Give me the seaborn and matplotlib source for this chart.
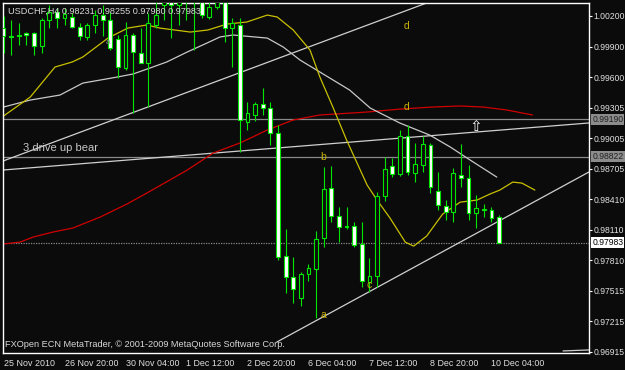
import matplotlib
matplotlib.use("Agg")
import matplotlib.pyplot as plt
import matplotlib.transforms as mtransforms
import seaborn as sns
import numpy as np
import pandas as pd

# ---------------- data (USDCHF H4, bars from 25 Nov 2010 12:00) ----------------
opens = [1.00082, 1.00004, 1.00014, 1.00033, 1.00033, 0.99906, 1.00160, 1.00239, 1.00180, 1.00190,
         1.00092, 0.99994, 1.00112, 1.00209, 1.00160, 0.99975, 0.99691, 1.00014, 0.99838, 0.99740,
         1.00112, 1.00307, 1.00385, 1.00307, 1.00405, 1.00356, 1.00405, 1.00190, 1.00288, 1.00385,
         1.00082, 1.00112, 0.99163, 0.99231, 0.99339, 0.99300, 0.99055, 0.97852, 0.97647, 0.97442,
         0.97676, 0.97725, 0.98028, 0.98517, 0.98244, 0.98146, 0.98146, 0.97970, 0.97598, 0.97657,
         0.98439, 0.98733, 0.98654, 0.99026, 0.98664, 0.98742, 0.98938, 0.98488, 0.98341, 0.98283,
         0.98645, 0.98615, 0.98273, 0.98312, 0.98302, 0.98231]
highs = [1.00200, 1.00160, 1.00131, 1.00043, 1.00043, 1.00180, 1.00307, 1.00278, 1.00278, 1.00229,
         1.00131, 1.00131, 1.00258, 1.00307, 1.00239, 1.00014, 1.00141, 1.00033, 1.00082, 1.00229,
         1.00356, 1.00454, 1.00503, 1.00473, 1.00503, 1.00454, 1.00454, 1.00356, 1.00434, 1.00434,
         1.00180, 1.00180, 0.99358, 0.99358, 0.99495, 0.99358, 0.99134, 0.98116, 0.97843, 0.97696,
         0.97774, 0.98097, 0.98723, 0.98733, 0.98332, 0.98332, 0.98185, 0.98185, 0.97833, 0.98478,
         0.98821, 0.98811, 0.99085, 0.99134, 0.98958, 0.99026, 0.98958, 0.98674, 0.98400, 0.98713,
         0.98948, 0.98742, 0.98449, 0.98361, 0.98332, 0.98255]
lows = [0.99838, 0.99818, 0.99916, 0.99916, 0.99818, 0.99838, 1.00082, 1.00082, 1.00112, 1.00082,
        0.99965, 0.99965, 1.00033, 1.00004, 0.99867, 0.99593, 0.99672, 0.99251, 0.99740, 0.99310,
        1.00082, 1.00160, 0.99985, 1.00112, 1.00160, 0.99867, 1.00180, 1.00170, 1.00268, 0.99945,
        0.99701, 0.98870, 0.99085, 0.99173, 0.99231, 0.98938, 0.97813, 0.97490, 0.97393, 0.97363,
        0.97608, 0.97246, 0.97940, 0.98185, 0.97987, 0.98116, 0.97940, 0.97549, 0.97500, 0.97549,
        0.98390, 0.98625, 0.98635, 0.98645, 0.98576, 0.98674, 0.98469, 0.98302, 0.98204, 0.98185,
        0.98527, 0.98204, 0.98126, 0.98234, 0.98185, 0.97980]
closes = [1.00004, 0.99999, 1.00009, 1.00014, 0.99906, 1.00160, 1.00239, 1.00180, 1.00219, 1.00092,
          1.00004, 1.00112, 1.00209, 1.00160, 0.99887, 0.99701, 1.00014, 0.99847, 0.99740, 1.00131,
          1.00209, 1.00385, 1.00307, 1.00405, 1.00356, 1.00405, 1.00209, 1.00288, 1.00385, 1.00082,
          1.00131, 0.99183, 0.99251, 0.99339, 0.99300, 0.99055, 0.97843, 0.97647, 0.97530, 0.97676,
          0.97735, 0.98019, 0.98508, 0.98244, 0.98136, 0.98141, 0.97960, 0.97608, 0.97657, 0.98439,
          0.98703, 0.98654, 0.99026, 0.98674, 0.98752, 0.98948, 0.98527, 0.98351, 0.98283, 0.98664,
          0.98615, 0.98273, 0.98322, 0.98302, 0.98224, 0.97983]

x_tick_bars = [0, 8, 16, 24, 32, 40, 48, 56, 64]
x_tick_labels = ["25 Nov 2010", "26 Nov 20:00", "30 Nov 04:00", "1 Dec 12:00", "2 Dec 20:00",
                 "6 Dec 04:00", "7 Dec 12:00", "8 Dec 20:00", "10 Dec 04:00"]
price_ticks = [1.00200, 0.99900, 0.99600, 0.99305, 0.99005, 0.98705, 0.98410,
               0.98110, 0.97810, 0.97515, 0.97215, 0.96915]
level_lines = [0.99190, 0.98822]
last_price = 0.97983

# moving averages (bar position, price)
ma_fast_x = [0, 3.5, 6.75, 9, 10.4, 13.7, 16.3, 18.8, 20.5, 24.5, 26.8, 29.3, 31.9, 34.6, 35.9, 38,
             40.2, 41.5, 43.2, 45, 47.7, 49, 50.7, 52.7, 53.8, 55.5, 57.6, 59.9, 62.1, 63.8, 65.1,
             66.8, 68, 69.7]
ma_fast_y = [0.99222, 0.99407, 0.99701, 0.99750, 0.99799, 0.99984, 1.00082, 1.00112, 1.00082,
             1.00043, 1.00063, 1.00121, 1.00141, 1.00209, 1.00190, 1.00063, 0.99867, 0.99603,
             0.99310, 0.98987, 0.98546, 0.98400, 0.98224, 0.97989, 0.97950, 0.98048, 0.98263,
             0.98380, 0.98400, 0.98459, 0.98498, 0.98576, 0.98566, 0.98498]
ma_mid_x = [0, 3.5, 7.4, 10.4, 12.7, 14.9, 17, 19.2, 21.4, 24.1, 26.7, 28.4, 30.1, 34.6, 36.7,
            38.9, 41.5, 45.4, 48.1, 52, 55.9, 58.6, 61.2, 64.7]
ma_mid_y = [0.99310, 0.99378, 0.99427, 0.99544, 0.99574, 0.99603, 0.99633, 0.99691, 0.99750,
            0.99848, 0.99936, 0.99995, 1.00014, 0.99984, 0.99896, 0.99769, 0.99652, 0.99476,
            0.99300, 0.99153, 0.99036, 0.98919, 0.98792, 0.98625]
ma_slow_x = [0, 2.2, 3.9, 6.5, 9.1, 12.7, 16.2, 18.8, 21.8, 24.1, 27.5, 31, 34.6, 38, 41.5,
             47.7, 52, 56.3, 59.9, 62.9, 66, 69.4]
ma_slow_y = [0.97971, 0.97990, 0.98039, 0.98088, 0.98127, 0.98235, 0.98362, 0.98469, 0.98596,
             0.98694, 0.98860, 0.98958, 0.99085, 0.99183, 0.99232, 0.99261, 0.99290, 0.99310,
             0.99320, 0.99310, 0.99281, 0.99232]

# trend lines (bar position, price) pairs
trend_upper = ([-0.07, 55.5], [0.98782, 1.00327])
trend_mid = ([-0.07, 76.8], [0.98694, 0.99154])
trend_low = ([35.87, 76.8], [0.97013, 0.98675])
trend_tiny = ([73.4, 76.8], [0.96925, 0.96935])

wave_labels = ["d", "d", "b", "c", "a"]
wave_x = [52.9, 52.9, 41.9, 47.9, 41.9]
wave_y = [1.00102, 0.99310, 0.98821, 0.97570, 0.97277]

# ---------------- styling ----------------
BG = "#0b0b0b"
LIME = "#00e600"
FS = 6.2
sns.set_style("dark", {"axes.facecolor": BG, "figure.facecolor": BG,
                       "axes.edgecolor": "white", "grid.color": BG})
plt.rcParams['font.family'] = ['Liberation Sans', 'DejaVu Sans']

fig = plt.figure(figsize=(6.25, 3.7), dpi=100)
fig.patch.set_facecolor(BG)
ax = fig.add_axes([3 / 625, 17 / 370, 586 / 625, 350 / 370])
ax.set_facecolor(BG)

# horizontal levels
for lv in level_lines:
    ax.axhline(lv, color="#8a8a8a", lw=0.9, zorder=1)
ax.axhline(last_price, color="#8a8a8a", lw=0.9, ls=(0, (1, 1)), zorder=1)

# trend lines
for tl in (trend_upper, trend_mid, trend_low, trend_tiny):
    ax.plot(tl[0], tl[1], color="#d0d0d0", lw=0.9, zorder=2)

# moving averages
sns.lineplot(x=ma_slow_x, y=ma_slow_y, ax=ax, color="#d00000", lw=0.9, zorder=2)
sns.lineplot(x=ma_mid_x, y=ma_mid_y, ax=ax, color="#c8c8c8", lw=0.9, zorder=2)
sns.lineplot(x=ma_fast_x, y=ma_fast_y, ax=ax, color="#c8c000", lw=0.9, zorder=2)

# candles
o = np.array(opens); c = np.array(closes)
h = np.array(highs); l = np.array(lows)
idx = np.arange(len(o))
bull = c >= o
ax.vlines(idx, l, h, color=LIME, lw=0.8, zorder=3)
bot = np.minimum(o, c)
hgt = np.maximum(np.abs(c - o), 1e-6)
faces = [BG if b else "white" for b in bull]
ax.bar(idx, hgt, bottom=bot, width=0.5, color=faces, edgecolor=LIME, linewidth=0.8, zorder=4)

# annotations
for t, xx, yy in zip(wave_labels, wave_x, wave_y):
    ax.text(xx, yy, t, color="#c8b400", fontsize=7.5, ha="center", va="center", zorder=6)
ax.text(13.7, 0.99936, "a", color="#9a9a9a", fontsize=6, ha="center", va="center", zorder=6)
ax.text(2.55, 0.98909, "3 drive up bear", color="#c8c8c8", fontsize=8, ha="left", va="center", zorder=6)
ax.text(62.0, 0.99118, "\u21e7", color="white", fontsize=11, ha="center", va="center", zorder=6,
        family="DejaVu Sans")
ax.text(0.008, 0.99, "USDCHF,H4 0.98231 0.98255 0.97980 0.97983", transform=ax.transAxes,
        color="#d8d8d8", fontsize=6.6, ha="left", va="top", zorder=7)
ax.text(0.004, 0.012, "FXOpen ECN MetaTrader, \u00a9 2001-2009 MetaQuotes Software Corp.",
        transform=ax.transAxes, color="#d8d8d8", fontsize=6.6, ha="left", va="bottom", zorder=7)

# axes limits / ticks
ax.set_xlim(-0.07, 76.8)
ax.set_ylim(0.96905, 1.00327)
ax.set_xlabel(""); ax.set_ylabel("")
ax.set_xticks(x_tick_bars)
ax.set_xticklabels(x_tick_labels, ha="left")
ax.yaxis.tick_right()
ax.set_yticks(price_ticks)
ax.set_yticklabels([f"{p:.5f}" for p in price_ticks])
ax.tick_params(axis="both", colors="white", labelcolor="#e0e0e0", labelsize=FS,
               length=2.5, width=0.8, direction="out")
ax.tick_params(axis="x", pad=1.5, labelsize=6.4)
ax.tick_params(axis="y", pad=1.0)
for sp in ax.spines.values():
    sp.set_color("white"); sp.set_linewidth(1.0); sp.set_visible(True)
ax.grid(False)

# price boxes on the right scale
trans = mtransforms.blended_transform_factory(ax.transAxes, ax.transData)
for lv in level_lines:
    ax.text(1.0055, lv, f"{lv:.5f}", transform=trans, fontsize=FS, color="#202020",
            ha="left", va="center", zorder=8, clip_on=False,
            bbox=dict(boxstyle="square,pad=0.12", fc="#8c8c8c", ec="none"))
ax.text(1.0055, last_price, f"{last_price:.5f}", transform=trans, fontsize=FS, color="black",
        ha="left", va="center", zorder=8, clip_on=False,
        bbox=dict(boxstyle="square,pad=0.12", fc="white", ec="none"))

fig.savefig("out.png", dpi=100, facecolor=BG)
